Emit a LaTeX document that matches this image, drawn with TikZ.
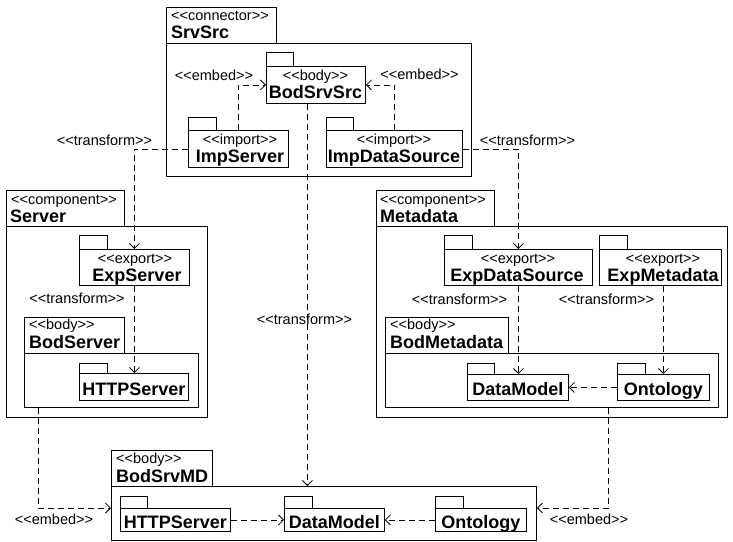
\documentclass[tikz,border=0pt]{standalone}
\usepackage{fontspec}
\setmainfont{Liberation Sans}[Ligatures=TeXOff]
\usetikzlibrary{arrows.meta,calc}
\newcommand\stereo[1]{<<#1>>}
\newcommand\mybox[7][]{\node[pbox,#1,minimum width={#5pt-#3pt},minimum height={#6pt-#4pt}] (#2) at (#3,#4) {#7};}
\tikzset{
  pbox/.style={draw=black,line width=0.9pt,inner sep=0pt,anchor=north west,
    text height=0pt,text depth=0pt},
  named/.style={font=\fontsize{18}{20}\selectfont\bfseries,text height=16.5pt,text depth=0pt},
  ster/.style={font=\fontsize{14.5}{16}\selectfont,inner sep=0pt},
  nm/.style={font=\fontsize{18}{20}\selectfont\bfseries,inner sep=0pt},
  dep/.style={draw=black,line width=0.8pt,dash pattern=on 6pt off 4pt,
    -{Straight Barb[length=5pt,width=10pt]}},
}
\begin{document}
\begin{tikzpicture}[x=1pt,y=-1pt]
\useasboundingbox (0,0) rectangle (733,541);
% SrvSrc
\mybox{SrvSrcTab}{166}{7}{276}{43}{}
\mybox{SrvSrc}{166}{43}{471}{176}{}
\node[ster,anchor=base west] (SrvSrcS) at (171,20) {\stereo{connector}};
\node[nm,anchor=base west] (SrvSrcN) at (171,38) {SrvSrc};
\mybox{BodSrvSrcTab}{266}{52}{293}{66}{}
\mybox{BodSrvSrc}{266}{66}{365}{103}{}
\node[ster,anchor=base] (BodSrvSrcS) at (315.5,80) {\stereo{body}};
\node[nm,anchor=base] (BodSrvSrcN) at (315.5,98) {BodSrvSrc};
\mybox{ImpServerTab}{188}{117}{216}{130}{}
\mybox{ImpServer}{188}{130}{288}{167}{}
\node[ster,anchor=base] (ImpServerS) at (240,144) {\stereo{import}};
\node[nm,anchor=base] (ImpServerN) at (240,162) {ImpServer};
\mybox{ImpDataSourceTab}{326}{117}{353}{130}{}
\mybox{ImpDataSource}{326}{130}{462}{167}{}
\node[ster,anchor=base] (ImpDataSourceS) at (394,144) {\stereo{import}};
\node[nm,anchor=base] (ImpDataSourceN) at (394,162) {ImpDataSource};
% Server
\mybox{ServerTab}{6}{190}{124}{226}{}
\mybox{Server}{6}{226}{207}{417}{}
\node[ster,anchor=base west] (ServerS) at (11,204) {\stereo{component}};
\node[nm,anchor=base west] (ServerN) at (10,222) {Server};
\mybox{ExpServerTab}{79}{235}{107}{249}{}
\mybox{ExpServer}{79}{249}{189}{285}{}
\node[ster,anchor=base] (ExpServerS) at (135,263) {\stereo{export}};
\node[nm,anchor=base] (ExpServerN) at (137,281) {ExpServer};
\mybox{BodServerTab}{24}{317}{124}{353}{}
\mybox{BodServer}{24}{353}{198}{407}{}
\node[ster,anchor=base west] (BodServerS) at (29,329) {\stereo{body}};
\node[nm,anchor=base west] (BodServerN) at (29,348) {BodServer};
\mybox{HTTPServerATab}{79}{363}{107}{373}{}
\mybox[named]{HTTPServerA}{79}{373}{188}{400}{HTTPServer}
% Metadata
\mybox{MetadataTab}{376}{190}{494}{226}{}
\mybox{Metadata}{376}{226}{727}{417}{}
\node[ster,anchor=base west] (MetadataS) at (380,204) {\stereo{component}};
\node[nm,anchor=base west] (MetadataN) at (380,222) {Metadata};
\mybox{ExpDataSourceTab}{444}{235}{472}{249}{}
\mybox{ExpDataSource}{444}{249}{592}{285}{}
\node[ster,anchor=base] (ExpDataSourceS) at (518,263) {\stereo{export}};
\node[nm,anchor=base] (ExpDataSourceN) at (517,281) {ExpDataSource};
\mybox{ExpMetadataTab}{599}{235}{627}{249}{}
\mybox{ExpMetadata}{599}{249}{721}{285}{}
\node[ster,anchor=base] (ExpMetadataS) at (663,263) {\stereo{export}};
\node[nm,anchor=base] (ExpMetadataN) at (663,281) {ExpMetadata};
\mybox{BodMetadataTab}{385}{317}{508}{353}{}
\mybox{BodMetadata}{385}{353}{718}{407}{}
\node[ster,anchor=base west] (BodMetadataS) at (390,329) {\stereo{body}};
\node[nm,anchor=base west] (BodMetadataN) at (390,348) {BodMetadata};
\mybox{DataModelATab}{467}{363}{494}{374}{}
\mybox[named]{DataModelA}{467}{374}{568}{400}{DataModel}
\mybox{OntologyATab}{617}{363}{645}{374}{}
\mybox[named]{OntologyA}{617}{374}{709}{400}{Ontology}
% BodSrvMD
\mybox{BodSrvMDTab}{111}{450}{212}{486}{}
\mybox{BodSrvMD}{111}{486}{536}{540}{}
\node[ster,anchor=base west] (BodSrvMDS) at (116,463) {\stereo{body}};
\node[nm,anchor=base west] (BodSrvMDN) at (116,482) {BodSrvMD};
\mybox{HTTPServerBTab}{120}{496}{147}{508}{}
\mybox[named]{HTTPServerB}{120}{508}{230}{531}{HTTPServer}
\mybox{DataModelBTab}{284}{496}{312}{508}{}
\mybox[named]{DataModelB}{284}{508}{384}{531}{DataModel}
\mybox{OntologyBTab}{435}{496}{463}{508}{}
\mybox[named]{OntologyB}{435}{508}{526}{531}{Ontology}
% connectors
\draw[dep] (ImpServer.north) |- (BodSrvSrc.west);
\draw[dep] (ImpDataSource.north) |- (BodSrvSrc.east);
\draw[dep] (ImpServer.west) -| (ExpServer.north);
\draw[dep] (ImpDataSource.east) -| (ExpDataSource.north);
\draw[dep] ([xshift=-8.5pt]BodSrvSrc.south) -- ([xshift=-8.5pt]BodSrvSrc.south |- BodSrvMD.north);
\draw[dep] (ExpServer.south) -- (ExpServer.south |- HTTPServerA.north);
\draw[dep] (ExpDataSource.south) -- (ExpDataSource.south |- DataModelA.north);
\draw[dep] (ExpMetadata.south -| OntologyA.north) -- (OntologyA.north);
\draw[dep] (OntologyA.west) -- (DataModelA.east);
\draw[dep] ([xshift=14pt]BodServer.south west) |- (BodSrvMD.west |- HTTPServerB.north);
\draw[dep] ([xshift=56.5pt]BodMetadata.south) |- (BodSrvMD.east |- OntologyB.north);
\draw[dep] (HTTPServerB.east) -- (DataModelB.west);
\draw[dep] (OntologyB.west) -- (DataModelB.east);
% labels
\node[ster] (lEmbA) at (214,75) {\stereo{embed}};
\node[ster] (lEmbB) at (419.5,74) {\stereo{embed}};
\node[ster] (lTrA) at (104.5,140) {\stereo{transform}};
\node[ster] (lTrB) at (527.5,140) {\stereo{transform}};
\node[ster] (lTrC) at (77,298) {\stereo{transform}};
\node[ster] (lTrD) at (459.5,299) {\stereo{transform}};
\node[ster] (lTrE) at (606.5,299) {\stereo{transform}};
\node[ster] (lTrF) at (304.5,319) {\stereo{transform}};
\node[ster] (lEmbC) at (54,519) {\stereo{embed}};
\node[ster] (lEmbD) at (589,519) {\stereo{embed}};
\end{tikzpicture}
\end{document}
